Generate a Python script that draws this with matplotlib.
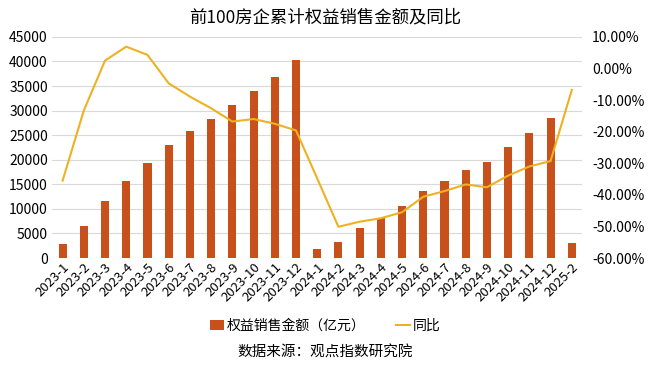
import numpy as np
import matplotlib
matplotlib.use("Agg")
from matplotlib import pyplot as plt
from matplotlib.ticker import FuncFormatter

plt.rcParams['font.family'] = ['Noto Sans CJK SC', 'DejaVu Sans']

# data
months = ['2023-1', '2023-2', '2023-3', '2023-4', '2023-5', '2023-6', '2023-7',
          '2023-8', '2023-9', '2023-10', '2023-11', '2023-12', '2024-1', '2024-2',
          '2024-3', '2024-4', '2024-5', '2024-6', '2024-7', '2024-8', '2024-9',
          '2024-10', '2024-11', '2024-12', '2025-2']
sales = [2850, 6500, 11650, 15740, 19410, 23080, 25800, 28310, 31090, 34080,
         36930, 40350, 1830, 3260, 6050, 8210, 10590, 13710, 15740, 17860,
         19490, 22670, 25520, 28450, 3050]
yoy = [-35.5, -13.3, 2.5, 6.9, 4.3, -4.7, -8.9, -12.6, -16.8, -16.0, -17.5,
       -19.6, -34.8, -50.1, -48.5, -47.4, -45.5, -40.6, -38.8, -36.7, -37.6,
       -33.9, -31.0, -29.3, -6.8]

bar_color = '#C8511B'
line_color = '#EEB123'

fig = plt.figure(figsize=(6.5, 3.65), dpi=100)
ax = fig.add_axes([0.08, 0.293, 0.816, 0.606])
x = np.arange(len(months))

ax.bar(x, sales, width=0.38, color=bar_color, zorder=2, label='权益销售金额（亿元）')
ax.set_ylim(0, 45000)
ax.set_yticks(np.arange(0, 45001, 5000))
ax.set_xlim(-0.5, len(months) - 0.5)
ax.set_xticks(x)
ax.set_xticklabels(months, rotation=45, ha='right', rotation_mode='anchor', fontsize=9.5)
ax.tick_params(axis='y', labelsize=10, length=0, pad=3)
ax.tick_params(axis='x', length=0, pad=2)
ax.grid(axis='y', color='#D9D9D9', linewidth=0.8, zorder=0)
for s in ax.spines.values():
    s.set_visible(False)

ax2 = ax.twinx()
ax2.plot(x, yoy, color=line_color, linewidth=1.5, zorder=3, label='同比')
ax2.set_ylim(-60, 10)
ax2.set_yticks(np.arange(-60, 11, 10))
ax2.yaxis.set_major_formatter(FuncFormatter(lambda v, p: '%.2f%%' % v))
ax2.tick_params(axis='y', labelsize=10, length=0, pad=7)
for s in ax2.spines.values():
    s.set_visible(False)

fig.text(0.5, 0.953, '前100房企累计权益销售金额及同比', ha='center', va='center', fontsize=12.5)

h1, l1 = ax.get_legend_handles_labels()
h2, l2 = ax2.get_legend_handles_labels()
fig.legend(h1 + h2, l1 + l2, loc='center', bbox_to_anchor=(0.5, 0.108), ncol=2,
           frameon=False, fontsize=10, handlelength=1.0, handleheight=0.7,
           handletextpad=0.2, columnspacing=2.2)

fig.text(0.5, 0.035, '数据来源：观点指数研究院', ha='center', va='center', fontsize=10.5)

fig.savefig('out.png', dpi=100)
